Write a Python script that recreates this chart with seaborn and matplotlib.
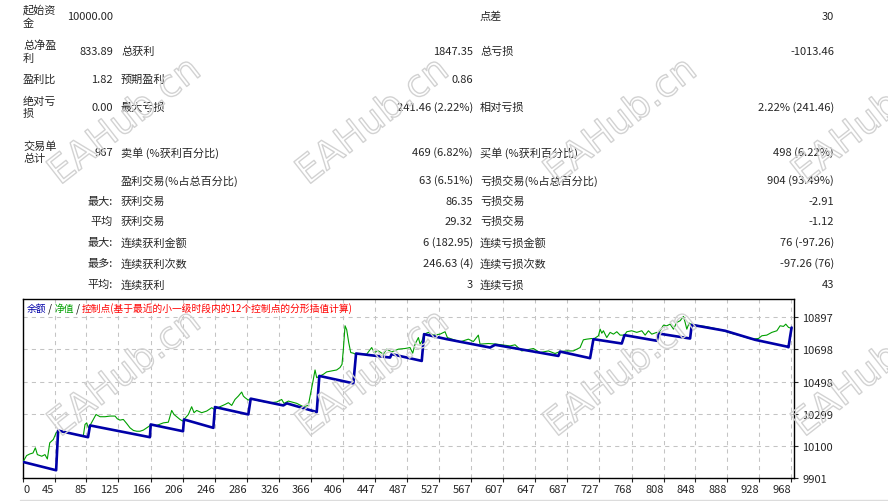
import pandas as pd
import matplotlib
matplotlib.use('Agg')
import matplotlib.pyplot as plt
import matplotlib.patheffects as pe
from matplotlib.lines import Line2D
import seaborn as sns

# Report table: three label / value column pairs, one entry per row
col1_labels = ['起始资\n金', '总净盈\n利', '盈利比', '绝对亏\n损', '交易单\n总计', '', '', '', '', '', '']
col1_values = ['10000.00', '833.89', '1.82', '0.00', '967', '', '最大:', '平均', '最大:', '最多:', '平均:']
col2_labels = ['', '总获利', '预期盈利', '最大亏损', '卖单 (%获利百分比)', '盈利交易(%占总百分比)',
               '获利交易', '获利交易', '连续获利金额', '连续获利次数', '连续获利']
col2_values = ['', '1847.35', '0.86', '241.46 (2.22%)', '469 (6.82%)', '63 (6.51%)',
               '86.35', '29.32', '6 (182.95)', '246.63 (4)', '3']
col3_labels = ['点差', '总亏损', '', '相对亏损', '买单 (%获利百分比)', '亏损交易(%占总百分比)',
               '亏损交易', '亏损交易', '连续亏损金额', '连续亏损次数', '连续亏损']
col3_values = ['30', '-1013.46', '', '2.22% (241.46)', '498 (6.22%)', '904 (93.49%)',
               '-2.91', '-1.12', '76 (-97.26)', '-97.26 (76)', '43']

# Balance curve (trade no., balance)
balance_pts = [(6, 10000), (47, 9949), (49.5, 10195), (87, 10154), (89.5, 10227), (164.5, 10154),
               (165.5, 10233), (206, 10191), (207.2, 10264), (244, 10212), (246, 10341), (287.8, 10295),
               (290.8, 10393), (331.7, 10351), (336, 10364), (373.5, 10310), (376.8, 10534), (419.4, 10488),
               (422.8, 10673), (465.4, 10648), (467.4, 10669), (505.1, 10627), (508, 10793), (536.4, 10762),
               (590.7, 10710), (597, 10727), (676.3, 10658), (678.4, 10685), (716, 10644), (720.2, 10762),
               (755.7, 10735), (759.1, 10787), (799.6, 10752), (801.7, 10797), (841.3, 10766), (843.4, 10851),
               (885.2, 10814), (922.8, 10758), (962.5, 10716), (964.6, 10712), (966.7, 10780), (968.5, 10834)]

# Equity curve (trade no., equity)
equity_pts = [(6, 10005), (10, 10040), (14, 10050), (18, 10056), (21, 10088), (23.5, 10046), (29, 10036),
              (33, 10046), (36, 10019), (39, 10119), (43.5, 10140), (47, 10181), (49.5, 10195), (60, 10183),
              (70, 10172), (81, 10160), (83.2, 10233), (85.3, 10243), (87.4, 10212), (89.5, 10227),
              (97, 10295), (102, 10281), (108.3, 10281), (114.5, 10285), (120.8, 10285), (123.7, 10268),
              (127, 10260), (131.2, 10264), (135.4, 10239), (139.6, 10212), (143.8, 10196), (148, 10191),
              (152.1, 10191), (156.3, 10198), (160.5, 10212), (163.8, 10223), (165.5, 10233), (173, 10227),
              (181.4, 10243), (187.6, 10247), (191.8, 10320), (194.7, 10295), (198, 10281), (202.2, 10264),
              (205.6, 10254), (207.2, 10264), (212.7, 10295), (216.8, 10343), (219.8, 10306), (223.1, 10320),
              (229.4, 10306), (235.6, 10316), (242, 10337), (245.3, 10326), (252.3, 10343), (258.6, 10357),
              (262.8, 10368), (267, 10351), (271.1, 10388), (275.3, 10409), (279.5, 10434), (281.6, 10409),
              (283.7, 10399), (287.8, 10384), (290.8, 10393), (302.5, 10378), (315, 10368), (323.3, 10372),
              (329.6, 10388), (332.5, 10364), (338, 10378), (348.4, 10364), (356.8, 10343), (363, 10351),
              (366, 10430), (368.5, 10492), (371.4, 10571), (373.5, 10523), (376, 10530), (381.8, 10544),
              (386, 10559), (392.3, 10565), (398.5, 10571), (402.7, 10586), (405.2, 10606), (406.9, 10700),
              (409, 10845), (411.1, 10820), (413.6, 10741), (416.1, 10679), (419.4, 10675), (421.9, 10669),
              (436.1, 10669), (442.4, 10710), (445.3, 10679), (450.7, 10689), (457, 10669), (461.2, 10700),
              (467.4, 10683), (475.8, 10700), (484.2, 10704), (490.4, 10710), (493.8, 10675), (496.7, 10731),
              (500.9, 10772), (503, 10731), (505.5, 10752), (508, 10793), (513.4, 10804), (519.7, 10787),
              (528, 10793), (534.3, 10808), (537.2, 10772), (553.1, 10745), (563.5, 10762), (569.8, 10747),
              (576, 10787), (578.1, 10731), (588.6, 10735), (599, 10731), (615.7, 10720), (622, 10727),
              (630.4, 10689), (645, 10704), (653.3, 10679), (663.8, 10689), (672.1, 10673), (678.4, 10685),
              (686.8, 10689), (695.1, 10689), (703.5, 10710), (707.6, 10758), (711.8, 10762), (718, 10766),
              (720.2, 10762), (726.5, 10783), (728.6, 10824), (730.7, 10799), (732.7, 10814), (736.9, 10772),
              (741.1, 10804), (745.3, 10793), (749.5, 10808), (753.6, 10787), (759.1, 10787), (762, 10808),
              (768.2, 10814), (774.5, 10804), (780.8, 10814), (785, 10787), (789.1, 10814), (793.3, 10793),
              (799.6, 10804), (801.7, 10797), (808, 10849), (812.1, 10845), (816.3, 10855), (820.5, 10824),
              (824.6, 10866), (828.8, 10876), (833, 10903), (835.1, 10866), (837.2, 10824), (840.1, 10862),
              (843.4, 10851), (860.1, 10841), (876.9, 10824), (893.6, 10797), (901.9, 10787), (918.6, 10762),
              (927, 10766), (931.2, 10783), (937.4, 10787), (943.7, 10804), (950, 10814), (954.1, 10845),
              (958.3, 10841), (961.2, 10855), (964.6, 10835), (968.7, 10828)]

x_tick_labels = [0, 45, 85, 125, 166, 206, 246, 286, 326, 366, 406, 447, 487, 527, 567, 607,
                 647, 687, 727, 768, 808, 848, 888, 928, 968]
y_ticks = [9901, 10100, 10299, 10498, 10698, 10897]

legend_parts = ['余额', ' / ', '净值', ' / ', '控制点(基于最近的小一级时段内的12个控制点的分形插值计算)']

balance = pd.DataFrame(balance_pts, columns=['trade', 'value'])
equity = pd.DataFrame(equity_pts, columns=['trade', 'value'])

sns.set_style('white')
plt.rcParams['font.family'] = ['Noto Sans CJK SC', 'DejaVu Sans']

W, H = 888, 502
fig = plt.figure(figsize=(W / 100, H / 100), dpi=100)
fig.patch.set_facecolor('white')


def fx(x):
    return x / W


def fy(y):
    return 1 - y / H


# table text
row_y = [17, 52, 80, 108, 153, 181, 202, 222, 243, 264, 285]
for i, y in enumerate(row_y):
    fig.text(fx(23), fy(y), col1_labels[i], ha='left', va='center', fontsize=8, linespacing=1.25)
    fig.text(fx(113), fy(y), col1_values[i], ha='right', va='center', fontsize=8)
    fig.text(fx(121), fy(y), col2_labels[i], ha='left', va='center', fontsize=8)
    fig.text(fx(473), fy(y), col2_values[i], ha='right', va='center', fontsize=8)
    fig.text(fx(480), fy(y), col3_labels[i], ha='left', va='center', fontsize=8)
    fig.text(fx(834), fy(y), col3_values[i], ha='right', va='center', fontsize=8)

# chart
ax = fig.add_axes([fx(23), fy(479), 771 / W, 179 / H])
ax.set_facecolor('white')
sns.lineplot(data=equity, x='trade', y='value', estimator=None, sort=False,
             color='#00a000', linewidth=0.8, ax=ax, zorder=3)
sns.lineplot(data=balance, x='trade', y='value', estimator=None, sort=False,
             color='#0000a8', linewidth=1.9, ax=ax, zorder=4)

x_min, x_max = 5.5, 971.5
ax.set_xlim(x_min, x_max)
ax.set_ylim(9901, 11011)
ax.set_xticks([x_min] + x_tick_labels[1:])
ax.set_xticklabels([str(v) for v in x_tick_labels], fontsize=8)
for i, lab in enumerate(ax.get_xticklabels()):
    lab.set_ha('left' if i == 0 else 'right')
ax.set_yticks(y_ticks)
ax.set_yticklabels([str(v) for v in y_ticks], fontsize=8)
ax.yaxis.tick_right()
ax.tick_params(axis='x', length=3, width=0.8, pad=1, direction='out', bottom=True)
ax.tick_params(axis='y', length=3, width=0.8, pad=3, direction='out', right=True, left=False)
ax.set_xlabel('')
ax.set_ylabel('')
ax.grid(True, color='#c4c4c4', linestyle=(0, (4, 4)), linewidth=0.75)
for s in ax.spines.values():
    s.set_color('black')
    s.set_linewidth(1)

# coloured legend text in the top left corner
legend_colors = ['#0000a8', '#000000', '#00a000', '#000000', '#ff0000']
prev = ax.text(0.005, 0.95, legend_parts[0], transform=ax.transAxes, color=legend_colors[0],
               fontsize=7, ha='left', va='center', zorder=6)
for part, col in zip(legend_parts[1:], legend_colors[1:]):
    prev = ax.annotate(part, xy=(1, 0), xycoords=prev, xytext=(0, 0), textcoords='offset points',
                       color=col, fontsize=7, ha='left', va='bottom', zorder=6)

# watermarks
for wy in [123, 375]:
    for wx in [125, 373, 621, 869]:
        fig.text(fx(wx), fy(wy), 'EAHub.cn', fontsize=27, family='DejaVu Sans', rotation=38,
                 rotation_mode='anchor', ha='center', va='center', color='none', zorder=10,
                 path_effects=[pe.Stroke(linewidth=1.0, foreground='#d2d2d2')])

fig.add_artist(Line2D([fx(20), 1], [fy(501), fy(501)], color='#dcdcdc', linewidth=1))

fig.savefig('out.png', dpi=100)
